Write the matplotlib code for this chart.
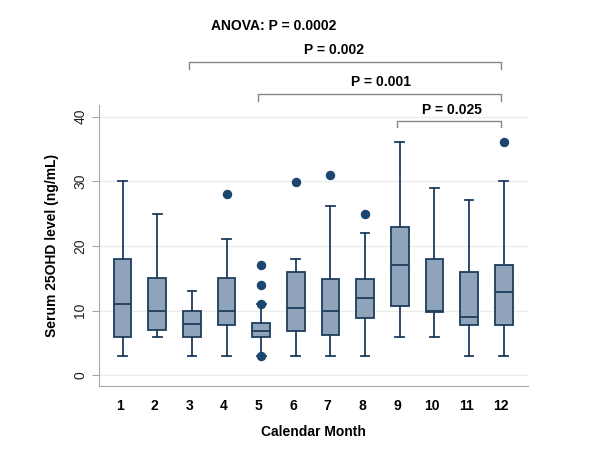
import numpy as np
import matplotlib
matplotlib.use('Agg')
import matplotlib.pyplot as plt

plt.rcParams['font.family'] = ['Liberation Sans', 'DejaVu Sans']
plt.rcParams['font.weight'] = 'bold'

# box statistics (ng/mL)
months = [1, 2, 3, 4, 5, 6, 7, 8, 9, 10, 11, 12]
whislo = [3, 6, 3, 3, 3, 3, 3, 3, 6, 6, 3, 3]
q1 = [6, 7, 6, 7.8, 5.9, 6.9, 6.2, 8.8, 10.8, 9.8, 7.8, 7.8]
med = [11, 10, 8, 10, 6.9, 10.4, 10, 12, 17.1, 10, 9, 12.9]
q3 = [18, 15, 10, 15, 8.1, 15.9, 14.9, 14.9, 22.9, 18, 15.9, 17.1]
whishi = [30, 25, 13, 21, 11, 18, 26.1, 22, 36, 29, 27.1, 30]
outliers = [[], [], [], [28], [3, 11, 14, 17], [29.9], [30.9], [24.9],
            [], [], [], [36]]

# comparisons: (from month, to month, p text)
pairs = [(3, 12, 'P = 0.002'), (5, 12, 'P = 0.001'), (9, 12, 'P = 0.025')]
anova_text = 'ANOVA: P = 0.0002'

fill = '#8fa3ba'
edge = '#1f3d5c'
dot = '#1b4670'

fig = plt.figure(figsize=(6, 4.5), dpi=100)
ax = fig.add_axes([0.165, 0.142, 0.715, 0.625])

stats = []
for i in range(len(months)):
    stats.append(dict(whislo=whislo[i], q1=q1[i], med=med[i], q3=q3[i],
                      whishi=whishi[i], fliers=outliers[i]))

ax.bxp(stats, positions=[m + 0.08 for m in months], widths=0.51,
       patch_artist=True, manage_ticks=False,
       boxprops=dict(facecolor=fill, edgecolor=edge, linewidth=1.3),
       medianprops=dict(color=edge, linewidth=1.3),
       whiskerprops=dict(color=edge, linewidth=1.3),
       capprops=dict(color=edge, linewidth=1.3),
       capwidths=0.25,
       flierprops=dict(marker='o', markerfacecolor=dot, markeredgecolor=dot,
                       markersize=5.8))

ax.set_xlim(0.4, 12.78)
ax.set_ylim(-1.65, 41.8)
ax.set_yticks([0, 10, 20, 30, 40])
ax.set_xticks(months)
ax.set_xticklabels([str(m) for m in months], fontsize=10, fontweight='bold')
for lab in ax.get_yticklabels():
    lab.set_rotation(90)
    lab.set_va('center')
    lab.set_fontsize(10)
    lab.set_fontweight('normal')
ax.yaxis.grid(True, color='#ececec', linewidth=1)
ax.set_axisbelow(True)

for s in ['top', 'right']:
    ax.spines[s].set_visible(False)
for s in ['left', 'bottom']:
    ax.spines[s].set_color('#a8a8a8')
ax.tick_params(axis='y', colors='#a8a8a8', labelcolor='#222222', length=5)
ax.tick_params(axis='x', length=0, pad=9)

ax.set_ylabel('Serum 25OHD level (ng/mL)', fontsize=10, fontweight='bold',
              labelpad=10)
ax.set_xlabel('Calendar Month', fontsize=10, fontweight='bold', labelpad=9)

# brackets above the boxes
bracket_y = [48.35, 43.45, 39.35]
text_pos = [(7.18, 50.2), (8.54, 45.4), (10.59, 41.0)]
for (a, b, t), yb, (tx, ty) in zip(pairs, bracket_y, text_pos):
    ax.plot([a, a, b, b], [yb - 1.0, yb, yb, yb - 1.0], color='#888888',
            linewidth=1, clip_on=False)
    ax.text(tx, ty, t, ha='center', va='center', fontsize=10,
            fontweight='bold', clip_on=False)
ax.text(5.45, 54.0, anova_text, ha='center', va='center', fontsize=10,
        fontweight='bold', clip_on=False)

fig.savefig('out.png', dpi=100, facecolor='white')
